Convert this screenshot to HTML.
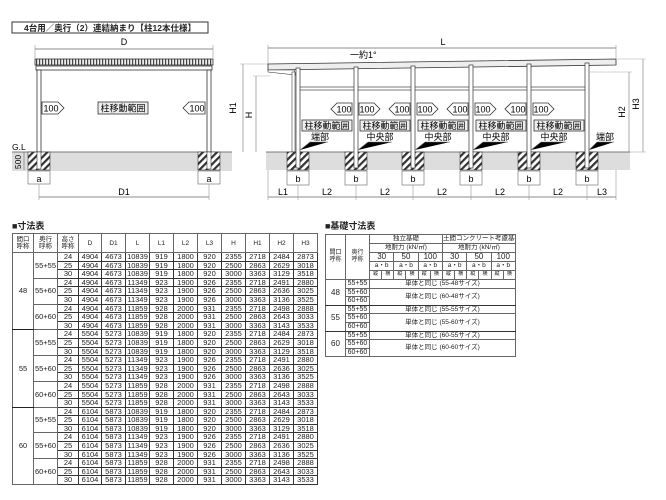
<!DOCTYPE html>
<html><head><meta charset="utf-8">
<style>
body{margin:0;width:666px;height:500px;background:#fff;position:relative;overflow:hidden;font-family:"Liberation Sans","Noto Sans CJK JP",sans-serif;}
svg{position:absolute;left:0;top:0}
table{position:absolute;border-collapse:collapse;table-layout:fixed;border:1.5px solid #333;font-size:7.5px;color:#222}
td{border:1px solid #666;padding:0;text-align:center;line-height:7.6px;height:7.6px;white-space:nowrap;overflow:hidden}
#t1 td.d{border:1px solid #333}
#t2 td.k{font-size:7px}
.h td{font-size:6.5px;line-height:7px}
.ttl{position:absolute;font-size:9px;font-weight:bold;color:#222}
</style></head><body>
<svg width="666" height="500" viewBox="0 0 666 500" font-family="Liberation Sans,Noto Sans CJK JP,sans-serif">
<defs>
<pattern id="hat" width="5" height="5" patternUnits="userSpaceOnUse" patternTransform="rotate(45)">
<rect width="5" height="5" fill="#fff"/><rect width="2.2" height="5" fill="#333"/></pattern>
<pattern id="rib" width="3" height="8" patternUnits="userSpaceOnUse"><rect width="3" height="8" fill="#eee"/><rect width="1.2" height="8" fill="#444"/></pattern>
</defs>
<rect x="12" y="22" width="196" height="11" fill="#fff" stroke="#333"/>
<text x="110" y="31" font-size="8.5" font-weight="bold" text-anchor="middle" fill="#222">4台用／奥行（2）連結納まり【柱12本仕様】</text>
<text x="124" y="45" font-size="9" text-anchor="middle">D</text>
<line x1="35" y1="49" x2="213" y2="49" stroke="#666" stroke-width="0.8"/>
<line x1="35" y1="45" x2="35" y2="58" stroke="#999" stroke-width="0.6"/><line x1="213" y1="45" x2="213" y2="58" stroke="#999" stroke-width="0.6"/>
<rect x="35" y="59" width="178" height="6" fill="url(#rib)" stroke="#333" stroke-width="0.8"/>
<rect x="36" y="66" width="176" height="4" fill="#fff" stroke="#333" stroke-width="0.8"/>
<rect x="37" y="70" width="4" height="82" fill="#fff" stroke="#333" stroke-width="0.8"/>
<rect x="207" y="70" width="4" height="82" fill="#fff" stroke="#333" stroke-width="0.8"/>
<rect x="12" y="152" width="220" height="19" fill="#ddd"/>
<line x1="12" y1="152" x2="232" y2="152" stroke="#555" stroke-width="0.8"/>
<rect x="28" y="152" width="22" height="18" fill="url(#hat)" stroke="#333" stroke-width="0.6"/>
<rect x="198" y="152" width="22" height="18" fill="url(#hat)" stroke="#333" stroke-width="0.6"/>
<rect x="37" y="152" width="4" height="17" fill="#fff" stroke="#333" stroke-width="0.6"/>
<rect x="207" y="152" width="4" height="17" fill="#fff" stroke="#333" stroke-width="0.6"/>
<text x="12" y="150" font-size="8.5">G.L</text>
<text x="21" y="162" font-size="8.5" transform="rotate(-90 21 162)" text-anchor="middle">500</text>
<line x1="24" y1="152" x2="24" y2="170" stroke="#666" stroke-width="0.6"/>
<path d="M42 102h16l6 6-6 6h-16z" fill="#fff" stroke="#333" stroke-width="0.8"/>
<text x="51" y="111.5" font-size="9" text-anchor="middle">100</text>
<path d="M205 102h-16l-6 6 6 6h16z" fill="#fff" stroke="#333" stroke-width="0.8"/>
<text x="197" y="111.5" font-size="9" text-anchor="middle">100</text>
<rect x="98" y="102" width="50" height="12" fill="#eee" stroke="#333" stroke-width="0.8"/>
<text x="123" y="111.5" font-size="9" text-anchor="middle">柱移動範囲</text>
<rect x="28" y="171" width="22" height="13" fill="#fff" stroke="#666" stroke-width="0.6"/>
<rect x="198" y="171" width="22" height="13" fill="#fff" stroke="#666" stroke-width="0.6"/>
<text x="39" y="182" font-size="9" text-anchor="middle">a</text><text x="209" y="182" font-size="9" text-anchor="middle">a</text>
<text x="124" y="195" font-size="9" text-anchor="middle">D1</text>
<line x1="39" y1="197" x2="209" y2="197" stroke="#666" stroke-width="0.8"/>
<line x1="39" y1="184" x2="39" y2="200" stroke="#999" stroke-width="0.6"/><line x1="209" y1="184" x2="209" y2="200" stroke="#999" stroke-width="0.6"/>
<line x1="243" y1="64" x2="243" y2="152" stroke="#888" stroke-width="0.7"/>
<line x1="240" y1="64" x2="268" y2="64" stroke="#aaa" stroke-width="0.6"/>
<text x="236" y="108" font-size="9" transform="rotate(-90 236 108)" text-anchor="middle">H1</text>
<line x1="256" y1="76" x2="256" y2="152" stroke="#888" stroke-width="0.7"/>
<line x1="253" y1="76" x2="270" y2="76" stroke="#aaa" stroke-width="0.6"/>
<text x="252" y="115" font-size="9" transform="rotate(-90 252 115)" text-anchor="middle">H</text>
<text x="443" y="45" font-size="9" text-anchor="middle">L</text>
<line x1="268" y1="48" x2="616" y2="48" stroke="#666" stroke-width="0.8"/>
<line x1="268" y1="45" x2="268" y2="66" stroke="#999" stroke-width="0.6"/><line x1="616" y1="45" x2="616" y2="58" stroke="#999" stroke-width="0.6"/>
<text x="350" y="58" font-size="9">一約1°</text>
<path d="M268 64L616 59L616 65L268 70Z" fill="#eee" stroke="#333" stroke-width="0.8"/>
<path d="M268 70L294 70L296 75L268 72Z" fill="#fff" stroke="#333" stroke-width="0.6"/>
<rect x="292" y="72" width="3" height="80" fill="#fff" stroke="#444" stroke-width="0.6"/>
<rect x="298" y="87" width="290" height="3" fill="#fff" stroke="#444" stroke-width="0.7"/>
<rect x="266" y="152" width="364" height="18" fill="#ddd"/>
<line x1="266" y1="152" x2="630" y2="152" stroke="#555" stroke-width="0.8"/>
<g stroke="#333" stroke-width="0.6">
<rect x="287" y="152" width="22" height="18" fill="url(#hat)"/>
<rect x="345" y="152" width="22" height="18" fill="url(#hat)"/>
<rect x="402" y="152" width="22" height="18" fill="url(#hat)"/>
<rect x="460" y="152" width="22" height="18" fill="url(#hat)"/>
<rect x="518" y="152" width="22" height="18" fill="url(#hat)"/>
<rect x="576" y="152" width="22" height="18" fill="url(#hat)"/>
</g>
<g fill="#fff" stroke="#333" stroke-width="0.7">
<rect x="296" y="68" width="4" height="100"/><rect x="354" y="67" width="4" height="101"/>
<rect x="411" y="66" width="4" height="102"/><rect x="469" y="65" width="4" height="103"/>
<rect x="527" y="64" width="4" height="104"/><rect x="585" y="63" width="4" height="105"/>
</g>
<g fill="#fff" stroke="#666" stroke-width="0.6">
<rect x="287" y="171" width="22" height="14"/><rect x="345" y="171" width="22" height="14"/>
<rect x="402" y="171" width="22" height="14"/><rect x="460" y="171" width="22" height="14"/>
<rect x="518" y="171" width="22" height="14"/><rect x="576" y="171" width="22" height="14"/>
</g>
<g font-size="9" text-anchor="middle">
<text x="298" y="182">b</text><text x="356" y="182">b</text><text x="413" y="182">b</text><text x="471" y="182">b</text><text x="529" y="182">b</text><text x="587" y="182">b</text>
<text x="283" y="195">L1</text><text x="327" y="195">L2</text><text x="385" y="195">L2</text><text x="442" y="195">L2</text><text x="500" y="195">L2</text><text x="558" y="195">L2</text><text x="602" y="195">L3</text>
</g>
<line x1="268" y1="197" x2="616" y2="197" stroke="#666" stroke-width="0.8"/>
<g stroke="#999" stroke-width="0.6"><line x1="268" y1="170" x2="268" y2="200"/><line x1="298" y1="185" x2="298" y2="200"/><line x1="356" y1="185" x2="356" y2="200"/><line x1="413" y1="185" x2="413" y2="200"/><line x1="471" y1="185" x2="471" y2="200"/><line x1="529" y1="185" x2="529" y2="200"/><line x1="587" y1="185" x2="587" y2="200"/><line x1="616" y1="170" x2="616" y2="200"/></g>
<line x1="629" y1="72" x2="629" y2="152" stroke="#888" stroke-width="0.7"/><line x1="590" y1="72" x2="632" y2="72" stroke="#aaa" stroke-width="0.6"/>
<text x="625" y="112" font-size="9" transform="rotate(-90 625 112)" text-anchor="middle">H2</text>
<line x1="643" y1="59" x2="643" y2="152" stroke="#888" stroke-width="0.7"/><line x1="616" y1="59" x2="646" y2="59" stroke="#aaa" stroke-width="0.6"/>
<text x="639" y="104" font-size="9" transform="rotate(-90 639 104)" text-anchor="middle">H3</text>
<line x1="630" y1="152" x2="646" y2="152" stroke="#aaa" stroke-width="0.6"/>
<g fill="#fff" stroke="#333" stroke-width="0.8">
<path d="M352 103h-15l-6 6 6 6h15z"/><path d="M410 103h-15l-6 6 6 6h15z"/><path d="M468 103h-15l-6 6 6 6h15z"/><path d="M526 103h-15l-6 6 6 6h15z"/>
<path d="M359 103h15l6 6-6 6h-15z"/><path d="M417 103h15l6 6-6 6h-15z"/><path d="M475 103h15l6 6-6 6h-15z"/><path d="M533 103h15l6 6-6 6h-15z"/>
</g>
<g font-size="9" text-anchor="middle">
<text x="344" y="112.5">100</text><text x="402" y="112.5">100</text><text x="460" y="112.5">100</text><text x="518" y="112.5">100</text>
<text x="367" y="112.5">100</text><text x="425" y="112.5">100</text><text x="483" y="112.5">100</text><text x="541" y="112.5">100</text>
</g>
<g fill="#eee" stroke="#333" stroke-width="0.8">
<rect x="302" y="120" width="50" height="11"/><rect x="360" y="120" width="50" height="11"/><rect x="418" y="120" width="50" height="11"/><rect x="476" y="120" width="50" height="11"/><rect x="534" y="120" width="50" height="11"/>
</g>
<g font-size="9" text-anchor="middle">
<text x="327" y="129">柱移動範囲</text><text x="385" y="129">柱移動範囲</text><text x="443" y="129">柱移動範囲</text><text x="501" y="129">柱移動範囲</text><text x="559" y="129">柱移動範囲</text>
<text x="320" y="140">端部</text><text x="380" y="140">中央部</text><text x="438" y="140">中央部</text><text x="496" y="140">中央部</text><text x="554" y="140">中央部</text><text x="605" y="140">端部</text>
</g>
<g stroke="#777" stroke-width="0.6"><path d="M300 150L310 142H328"/><path d="M358 150L368 142H392"/><path d="M415 150L425 142H450"/><path d="M473 150L483 142H508"/><path d="M531 150L541 142H566"/><path d="M589 150L597 142H614"/></g>
</svg>

<div class="ttl" style="left:12px;top:219px">■寸法表</div>
<table id="t1" style="left:12px;top:233px;width:305px">
<colgroup><col style="width:21px"><col style="width:24px"><col style="width:21px"><col style="width:23px"><col style="width:24px"><col style="width:24px"><col style="width:24px"><col style="width:24px"><col style="width:24px"><col style="width:24px"><col style="width:24px"><col style="width:24px"><col style="width:24px"></colgroup>
<tr class="h"><td style="height:18px">間口<br>呼称</td><td>奥行<br>呼称</td><td>高さ<br>呼称</td><td>D</td><td>D1</td><td>L</td><td>L1</td><td>L2</td><td>L3</td><td>H</td><td>H1</td><td>H2</td><td>H3</td></tr>
<tr><td rowspan="9" style="border-bottom:1.5px solid #222">48</td><td rowspan="3">55+55</td><td class="d">24</td><td class="d">4904</td><td class="d">4673</td><td class="d">10839</td><td class="d">919</td><td class="d">1800</td><td class="d">920</td><td class="d">2355</td><td class="d">2718</td><td class="d">2484</td><td class="d">2873</td></tr>
<tr><td class="d">25</td><td class="d">4904</td><td class="d">4673</td><td class="d">10839</td><td class="d">919</td><td class="d">1800</td><td class="d">920</td><td class="d">2500</td><td class="d">2863</td><td class="d">2629</td><td class="d">3018</td></tr>
<tr><td class="d">30</td><td class="d">4904</td><td class="d">4673</td><td class="d">10839</td><td class="d">919</td><td class="d">1800</td><td class="d">920</td><td class="d">3000</td><td class="d">3363</td><td class="d">3129</td><td class="d">3518</td></tr>
<tr><td rowspan="3">55+60</td><td class="d">24</td><td class="d">4904</td><td class="d">4673</td><td class="d">11349</td><td class="d">923</td><td class="d">1900</td><td class="d">926</td><td class="d">2355</td><td class="d">2718</td><td class="d">2491</td><td class="d">2880</td></tr>
<tr><td class="d">25</td><td class="d">4904</td><td class="d">4673</td><td class="d">11349</td><td class="d">923</td><td class="d">1900</td><td class="d">926</td><td class="d">2500</td><td class="d">2863</td><td class="d">2636</td><td class="d">3025</td></tr>
<tr><td class="d">30</td><td class="d">4904</td><td class="d">4673</td><td class="d">11349</td><td class="d">923</td><td class="d">1900</td><td class="d">926</td><td class="d">3000</td><td class="d">3363</td><td class="d">3136</td><td class="d">3525</td></tr>
<tr><td rowspan="3">60+60</td><td class="d">24</td><td class="d">4904</td><td class="d">4673</td><td class="d">11859</td><td class="d">928</td><td class="d">2000</td><td class="d">931</td><td class="d">2355</td><td class="d">2718</td><td class="d">2498</td><td class="d">2888</td></tr>
<tr><td class="d">25</td><td class="d">4904</td><td class="d">4673</td><td class="d">11859</td><td class="d">928</td><td class="d">2000</td><td class="d">931</td><td class="d">2500</td><td class="d">2863</td><td class="d">2643</td><td class="d">3033</td></tr>
<tr><td class="d">30</td><td class="d">4904</td><td class="d">4673</td><td class="d">11859</td><td class="d">928</td><td class="d">2000</td><td class="d">931</td><td class="d">3000</td><td class="d">3363</td><td class="d">3143</td><td class="d">3533</td></tr>
<tr><td rowspan="9" style="border-bottom:1.5px solid #222">55</td><td rowspan="3">55+55</td><td class="d">24</td><td class="d">5504</td><td class="d">5273</td><td class="d">10839</td><td class="d">919</td><td class="d">1800</td><td class="d">920</td><td class="d">2355</td><td class="d">2718</td><td class="d">2484</td><td class="d">2873</td></tr>
<tr><td class="d">25</td><td class="d">5504</td><td class="d">5273</td><td class="d">10839</td><td class="d">919</td><td class="d">1800</td><td class="d">920</td><td class="d">2500</td><td class="d">2863</td><td class="d">2629</td><td class="d">3018</td></tr>
<tr><td class="d">30</td><td class="d">5504</td><td class="d">5273</td><td class="d">10839</td><td class="d">919</td><td class="d">1800</td><td class="d">920</td><td class="d">3000</td><td class="d">3363</td><td class="d">3129</td><td class="d">3518</td></tr>
<tr><td rowspan="3">55+60</td><td class="d">24</td><td class="d">5504</td><td class="d">5273</td><td class="d">11349</td><td class="d">923</td><td class="d">1900</td><td class="d">926</td><td class="d">2355</td><td class="d">2718</td><td class="d">2491</td><td class="d">2880</td></tr>
<tr><td class="d">25</td><td class="d">5504</td><td class="d">5273</td><td class="d">11349</td><td class="d">923</td><td class="d">1900</td><td class="d">926</td><td class="d">2500</td><td class="d">2863</td><td class="d">2636</td><td class="d">3025</td></tr>
<tr><td class="d">30</td><td class="d">5504</td><td class="d">5273</td><td class="d">11349</td><td class="d">923</td><td class="d">1900</td><td class="d">926</td><td class="d">3000</td><td class="d">3363</td><td class="d">3136</td><td class="d">3525</td></tr>
<tr><td rowspan="3">60+60</td><td class="d">24</td><td class="d">5504</td><td class="d">5273</td><td class="d">11859</td><td class="d">928</td><td class="d">2000</td><td class="d">931</td><td class="d">2355</td><td class="d">2718</td><td class="d">2498</td><td class="d">2888</td></tr>
<tr><td class="d">25</td><td class="d">5504</td><td class="d">5273</td><td class="d">11859</td><td class="d">928</td><td class="d">2000</td><td class="d">931</td><td class="d">2500</td><td class="d">2863</td><td class="d">2643</td><td class="d">3033</td></tr>
<tr><td class="d">30</td><td class="d">5504</td><td class="d">5273</td><td class="d">11859</td><td class="d">928</td><td class="d">2000</td><td class="d">931</td><td class="d">3000</td><td class="d">3363</td><td class="d">3143</td><td class="d">3533</td></tr>
<tr><td rowspan="9">60</td><td rowspan="3">55+55</td><td class="d">24</td><td class="d">6104</td><td class="d">5873</td><td class="d">10839</td><td class="d">919</td><td class="d">1800</td><td class="d">920</td><td class="d">2355</td><td class="d">2718</td><td class="d">2484</td><td class="d">2873</td></tr>
<tr><td class="d">25</td><td class="d">6104</td><td class="d">5873</td><td class="d">10839</td><td class="d">919</td><td class="d">1800</td><td class="d">920</td><td class="d">2500</td><td class="d">2863</td><td class="d">2629</td><td class="d">3018</td></tr>
<tr><td class="d">30</td><td class="d">6104</td><td class="d">5873</td><td class="d">10839</td><td class="d">919</td><td class="d">1800</td><td class="d">920</td><td class="d">3000</td><td class="d">3363</td><td class="d">3129</td><td class="d">3518</td></tr>
<tr><td rowspan="3">55+60</td><td class="d">24</td><td class="d">6104</td><td class="d">5873</td><td class="d">11349</td><td class="d">923</td><td class="d">1900</td><td class="d">926</td><td class="d">2355</td><td class="d">2718</td><td class="d">2491</td><td class="d">2880</td></tr>
<tr><td class="d">25</td><td class="d">6104</td><td class="d">5873</td><td class="d">11349</td><td class="d">923</td><td class="d">1900</td><td class="d">926</td><td class="d">2500</td><td class="d">2863</td><td class="d">2636</td><td class="d">3025</td></tr>
<tr><td class="d">30</td><td class="d">6104</td><td class="d">5873</td><td class="d">11349</td><td class="d">923</td><td class="d">1900</td><td class="d">926</td><td class="d">3000</td><td class="d">3363</td><td class="d">3136</td><td class="d">3525</td></tr>
<tr><td rowspan="3">60+60</td><td class="d">24</td><td class="d">6104</td><td class="d">5873</td><td class="d">11859</td><td class="d">928</td><td class="d">2000</td><td class="d">931</td><td class="d">2355</td><td class="d">2718</td><td class="d">2498</td><td class="d">2888</td></tr>
<tr><td class="d">25</td><td class="d">6104</td><td class="d">5873</td><td class="d">11859</td><td class="d">928</td><td class="d">2000</td><td class="d">931</td><td class="d">2500</td><td class="d">2863</td><td class="d">2643</td><td class="d">3033</td></tr>
<tr><td class="d">30</td><td class="d">6104</td><td class="d">5873</td><td class="d">11859</td><td class="d">928</td><td class="d">2000</td><td class="d">931</td><td class="d">3000</td><td class="d">3363</td><td class="d">3143</td><td class="d">3533</td></tr>
</table>

<div class="ttl" style="left:325px;top:219px">■基礎寸法表</div>
<table id="t2" style="left:325px;top:234px;width:190px;font-size:6.5px">
<colgroup><col style="width:20px"><col style="width:24px"><col span="12" style="width:12.17px"></colgroup>
<tr><td rowspan="5" style="font-size:6px;line-height:7px">間口<br>呼称</td><td rowspan="5" style="font-size:6px;line-height:7px">奥行<br>呼称</td><td colspan="6" style="height:8px">独立基礎</td><td colspan="6">土間コンクリート考慮基礎</td></tr>
<tr><td colspan="6" style="height:8px">地耐力 (kN/㎡)</td><td colspan="6">地耐力 (kN/㎡)</td></tr>
<tr style="font-size:8px"><td colspan="2" style="height:8px">30</td><td colspan="2">50</td><td colspan="2">100</td><td colspan="2">30</td><td colspan="2">50</td><td colspan="2">100</td></tr>
<tr><td colspan="2" style="height:8px">a・b</td><td colspan="2">a・b</td><td colspan="2">a・b</td><td colspan="2">a・b</td><td colspan="2">a・b</td><td colspan="2">a・b</td></tr>
<tr style="font-size:5px"><td style="height:8px">縦</td><td>横</td><td>縦</td><td>横</td><td>縦</td><td>横</td><td>縦</td><td>横</td><td>縦</td><td>横</td><td>縦</td><td>横</td></tr>
<tr><td rowspan="3" style="font-size:8px;border-bottom:1.5px solid #333">48</td><td class="k">55+55</td><td colspan="12">単体と同じ (55-48サイズ)</td></tr>
<tr><td class="k">55+60</td><td colspan="12" rowspan="2" style="border-bottom:1.5px solid #333">単体と同じ (60-48サイズ)</td></tr>
<tr><td class="k" style="border-bottom:1.5px solid #333">60+60</td></tr>
<tr><td rowspan="3" style="font-size:8px;border-bottom:1.5px solid #333">55</td><td class="k">55+55</td><td colspan="12">単体と同じ (55-55サイズ)</td></tr>
<tr><td class="k">55+60</td><td colspan="12" rowspan="2" style="border-bottom:1.5px solid #333">単体と同じ (55-60サイズ)</td></tr>
<tr><td class="k" style="border-bottom:1.5px solid #333">60+60</td></tr>
<tr><td rowspan="3" style="font-size:8px">60</td><td class="k">55+55</td><td colspan="12">単体と同じ (60-55サイズ)</td></tr>
<tr><td class="k">55+60</td><td colspan="12" rowspan="2">単体と同じ (60-60サイズ)</td></tr>
<tr><td class="k">60+60</td></tr>
</table>
</body></html>
